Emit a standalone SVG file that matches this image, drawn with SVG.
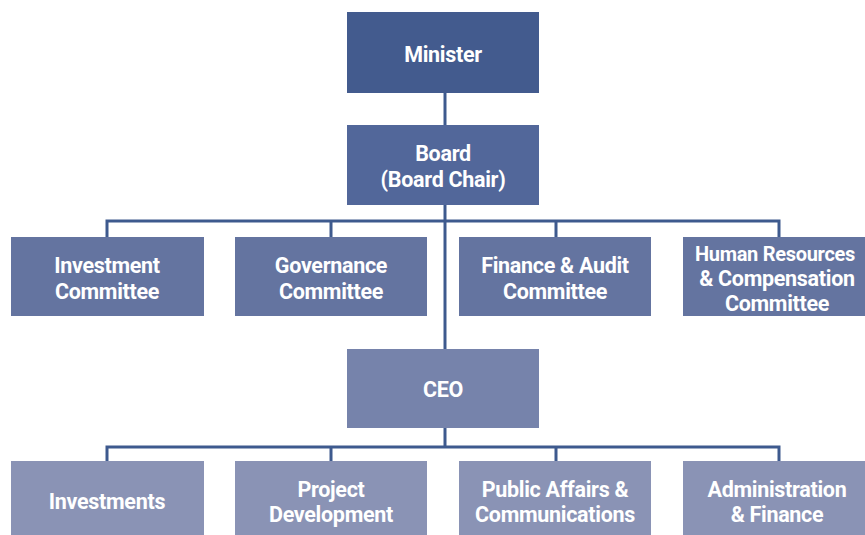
<svg xmlns="http://www.w3.org/2000/svg" width="865" height="535" viewBox="0 0 865 535">
<style>
.t{font-family:Roboto,"Liberation Sans",sans-serif;font-weight:700;font-size:21.5px;fill:#ffffff;text-anchor:middle;letter-spacing:-0.3px}
.s{font-size:20px}
.ln{stroke:#3e5a8e;stroke-width:3;fill:none}
.l1{fill:#435b8e}.l2{fill:#52679a}.l3{fill:#6474a0}.l4{fill:#7683ab}.l5{fill:#8a93b5}
</style>
<rect width="865" height="535" fill="#ffffff"/>
<g id="connectors">
<path class="ln" d="M445 93V349"/>
<path class="ln" d="M107 237V221H779V237M331 221V237M556 221V237"/>
<path class="ln" d="M445 428V447M107 461V447H779V461M331 447V461M556 447V461"/>
</g>
<g id="minister"><rect class="l1" x="347" y="12" width="192" height="81"/><text class="t" x="443" y="62">Minister</text></g>
<g id="board"><rect class="l2" x="347" y="125" width="192" height="80"/><text class="t" x="443" y="161">Board</text><text class="t" x="443" y="187">(Board Chair)</text></g>
<g id="investment-committee"><rect class="l3" x="11" y="237" width="193" height="79"/><text class="t" x="107" y="273">Investment</text><text class="t" x="107" y="299">Committee</text></g>
<g id="governance-committee"><rect class="l3" x="235" y="237" width="192" height="79"/><text class="t" x="331" y="273">Governance</text><text class="t" x="331" y="299">Committee</text></g>
<g id="finance-audit-committee"><rect class="l3" x="459" y="237" width="192" height="79"/><text class="t" x="555" y="273">Finance &amp; Audit</text><text class="t" x="555" y="299">Committee</text></g>
<g id="hr-committee"><rect class="l3" x="683" y="237" width="182" height="79"/><text class="t s" x="775" y="261">Human Resources</text><text class="t" x="777" y="286">&amp; Compensation</text><text class="t" x="777" y="311">Committee</text></g>
<g id="ceo"><rect class="l4" x="347" y="349" width="192" height="79"/><text class="t" x="443" y="397">CEO</text></g>
<g id="investments"><rect class="l5" x="11" y="461" width="193" height="74"/><text class="t" x="107" y="509">Investments</text></g>
<g id="project-development"><rect class="l5" x="235" y="461" width="192" height="74"/><text class="t" x="331" y="497">Project</text><text class="t" x="331" y="522">Development</text></g>
<g id="public-affairs"><rect class="l5" x="459" y="461" width="192" height="74"/><text class="t" x="555" y="497">Public Affairs &amp;</text><text class="t" x="555" y="522">Communications</text></g>
<g id="administration-finance"><rect class="l5" x="683" y="461" width="182" height="74"/><text class="t" x="777" y="497">Administration</text><text class="t" x="777" y="522">&amp; Finance</text></g>
</svg>
